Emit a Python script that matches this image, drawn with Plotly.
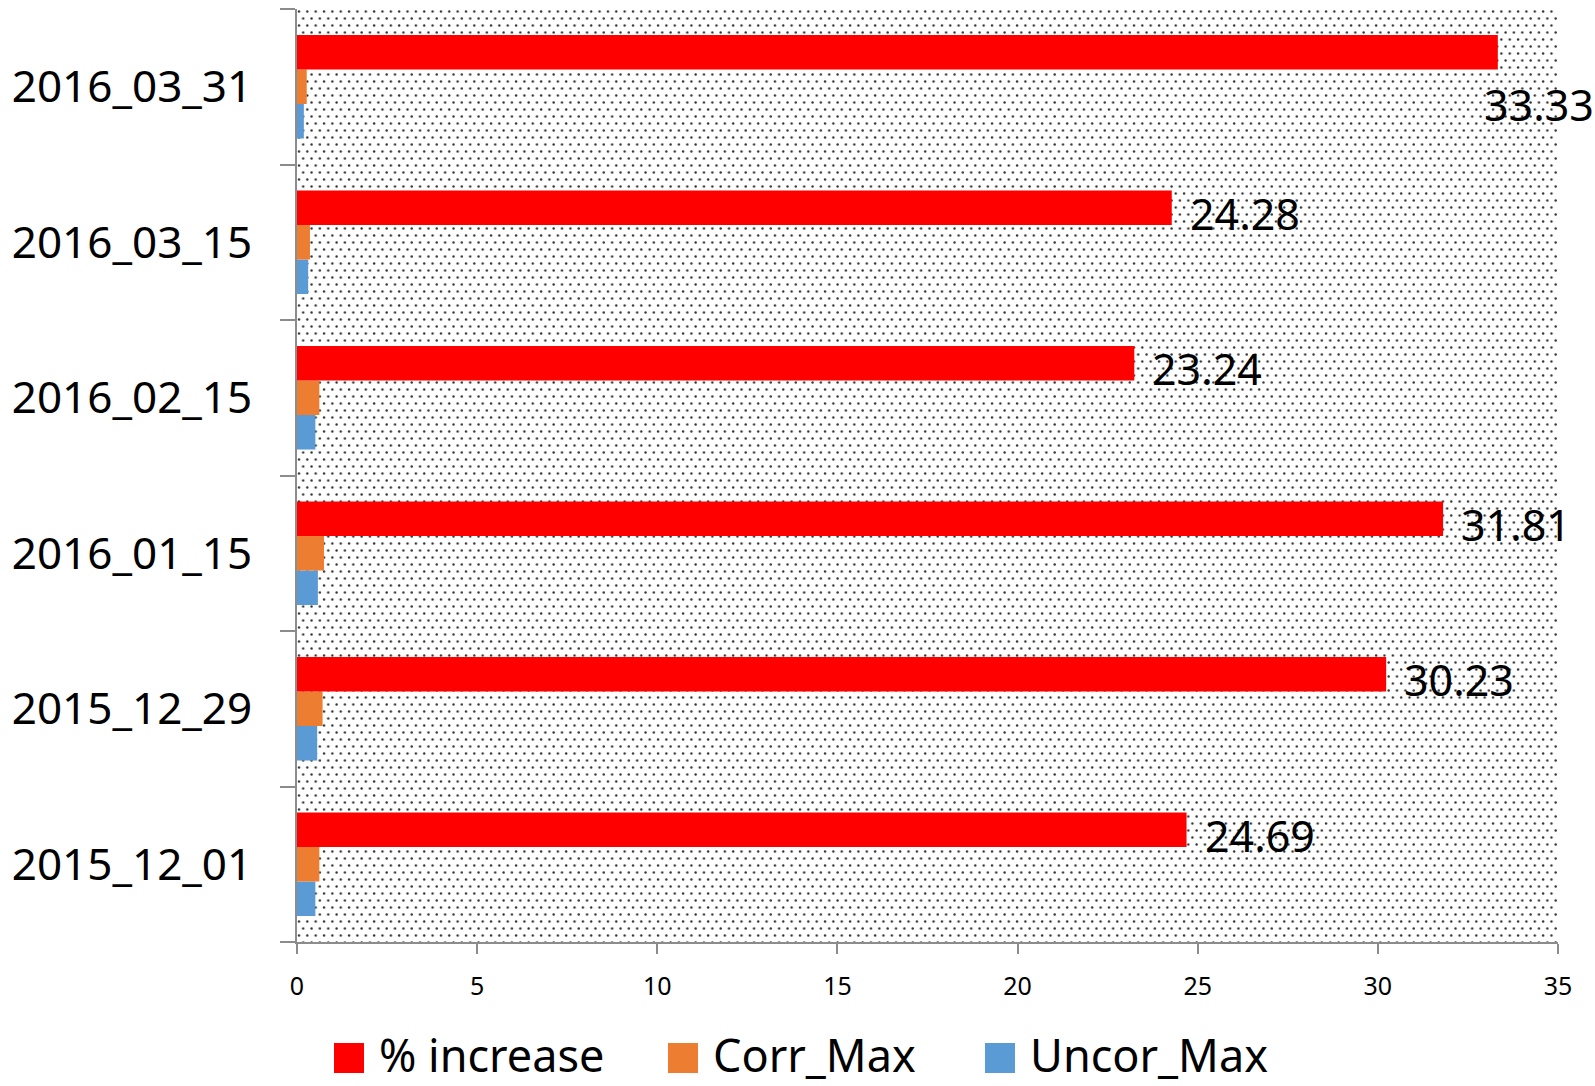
import base64
import plotly.graph_objects as go

# ---- data ----
categories = ["2015_12_01", "2015_12_29", "2016_01_15", "2016_02_15", "2016_03_15", "2016_03_31"]
pct_increase = [24.69, 30.23, 31.81, 23.24, 24.28, 33.33]
corr_max = [0.62, 0.71, 0.75, 0.62, 0.36, 0.27]
uncor_max = [0.51, 0.56, 0.58, 0.51, 0.31, 0.19]
x_ticks = [0, 5, 10, 15, 20, 25, 30, 35]

series_names = ["% increase", "Corr_Max", "Uncor_Max"]
series_colors = ["#FF0000", "#ED7D31", "#5B9BD5"]

FONT = "Noto Sans, Open Sans, DejaVu Sans, sans-serif"
W, H = 1595, 1086
ML, MR, MT, MB = 297, 37, 9, 144
PW, PH = W - ML - MR, H - MT - MB

fig = go.Figure()
# Excel draws the first series at the bottom of each group
fig.add_trace(go.Bar(y=categories, x=uncor_max, orientation="h", name="Uncor_Max",
                     marker=dict(color=series_colors[2], line=dict(width=0)), showlegend=False))
fig.add_trace(go.Bar(y=categories, x=corr_max, orientation="h", name="Corr_Max",
                     marker=dict(color=series_colors[1], line=dict(width=0)), showlegend=False))
fig.add_trace(go.Bar(y=categories, x=pct_increase, orientation="h", name="% increase",
                     marker=dict(color=series_colors[0], line=dict(width=0)), showlegend=False))

# data labels on the % increase bars
annotations = []
for i, (c, v) in enumerate(zip(categories, pct_increase)):
    if v == max(pct_increase):
        xs, ys = -16, -18
    else:
        xs, ys = 16, 29
    annotations.append(dict(x=v, y=c, xref="x", yref="y", text=f"{v:.2f}", showarrow=False,
                            xanchor="left", yanchor="middle", xshift=xs, yshift=ys,
                            font=dict(family=FONT, size=43, color="#000000")))

# manual legend (large square swatches as in the reference)
def px_x(p):
    return (p - ML) / PW

def px_y(p):
    return (H - MB - p) / PH

shapes = []
legend_items = [(334, 377), (668, 711), (985, 1028)]
for (sq_x, tx), name, col in zip(legend_items, series_names, series_colors):
    shapes.append(dict(type="rect", xref="paper", yref="paper",
                       x0=px_x(sq_x), x1=px_x(sq_x + 30), y0=px_y(1073), y1=px_y(1043),
                       fillcolor=col, line=dict(width=0)))
    annotations.append(dict(x=px_x(tx), y=px_y(1054), xref="paper", yref="paper", text=name,
                            showarrow=False, xanchor="left", yanchor="middle",
                            font=dict(family=FONT, size=45, color="#000000")))

# dotted plot-area background
svg = (f'<svg xmlns="http://www.w3.org/2000/svg" width="{PW}" height="{PH}" viewBox="0 0 {PW} {PH}">'
       '<defs><pattern id="p" x="0" y="0" width="8.35" height="14" patternUnits="userSpaceOnUse">'
       '<circle cx="2" cy="2.5" r="1.2" fill="#333333"/>'
       '<circle cx="6.2" cy="9.5" r="1.2" fill="#333333"/>'
       '</pattern></defs>'
       f'<rect width="{PW}" height="{PH}" fill="#ffffff"/>'
       f'<rect width="{PW}" height="{PH}" fill="url(#p)"/></svg>')
src = "data:image/svg+xml;base64," + base64.b64encode(svg.encode()).decode()

fig.update_layout(
    width=W, height=H, autosize=False,
    margin=dict(l=ML, r=MR, t=MT, b=MB, pad=0),
    paper_bgcolor="#FFFFFF", plot_bgcolor="rgba(0,0,0,0)",
    barmode="group", bargap=0.334, bargroupgap=0,
    showlegend=False,
    font=dict(family=FONT, color="#000000"),
    annotations=annotations, shapes=shapes,
    images=[dict(source=src, xref="paper", yref="paper", x=0, y=1, sizex=1, sizey=1,
                 xanchor="left", yanchor="top", sizing="stretch", layer="below")],
    xaxis=dict(range=[0, 35], tickvals=x_ticks, ticktext=[str(t) for t in x_ticks],
               showgrid=False, zeroline=False, showline=True, linecolor="#8C8C8C", linewidth=2,
               ticks="outside", ticklen=10, tickwidth=2, tickcolor="#8C8C8C",
               tickfont=dict(family=FONT, size=25, color="#000000"), ticklabelstandoff=11),
    yaxis=dict(type="category", categoryorder="array", categoryarray=categories,
               showgrid=False, zeroline=False, showline=True, linecolor="#8C8C8C", linewidth=2,
               ticks="outside", ticklen=15, tickwidth=2, tickcolor="#8C8C8C",
               tickson="boundaries",
               tickfont=dict(family=FONT, size=44, color="#000000"), ticklabelstandoff=34),
)

fig.write_html("out.html")
